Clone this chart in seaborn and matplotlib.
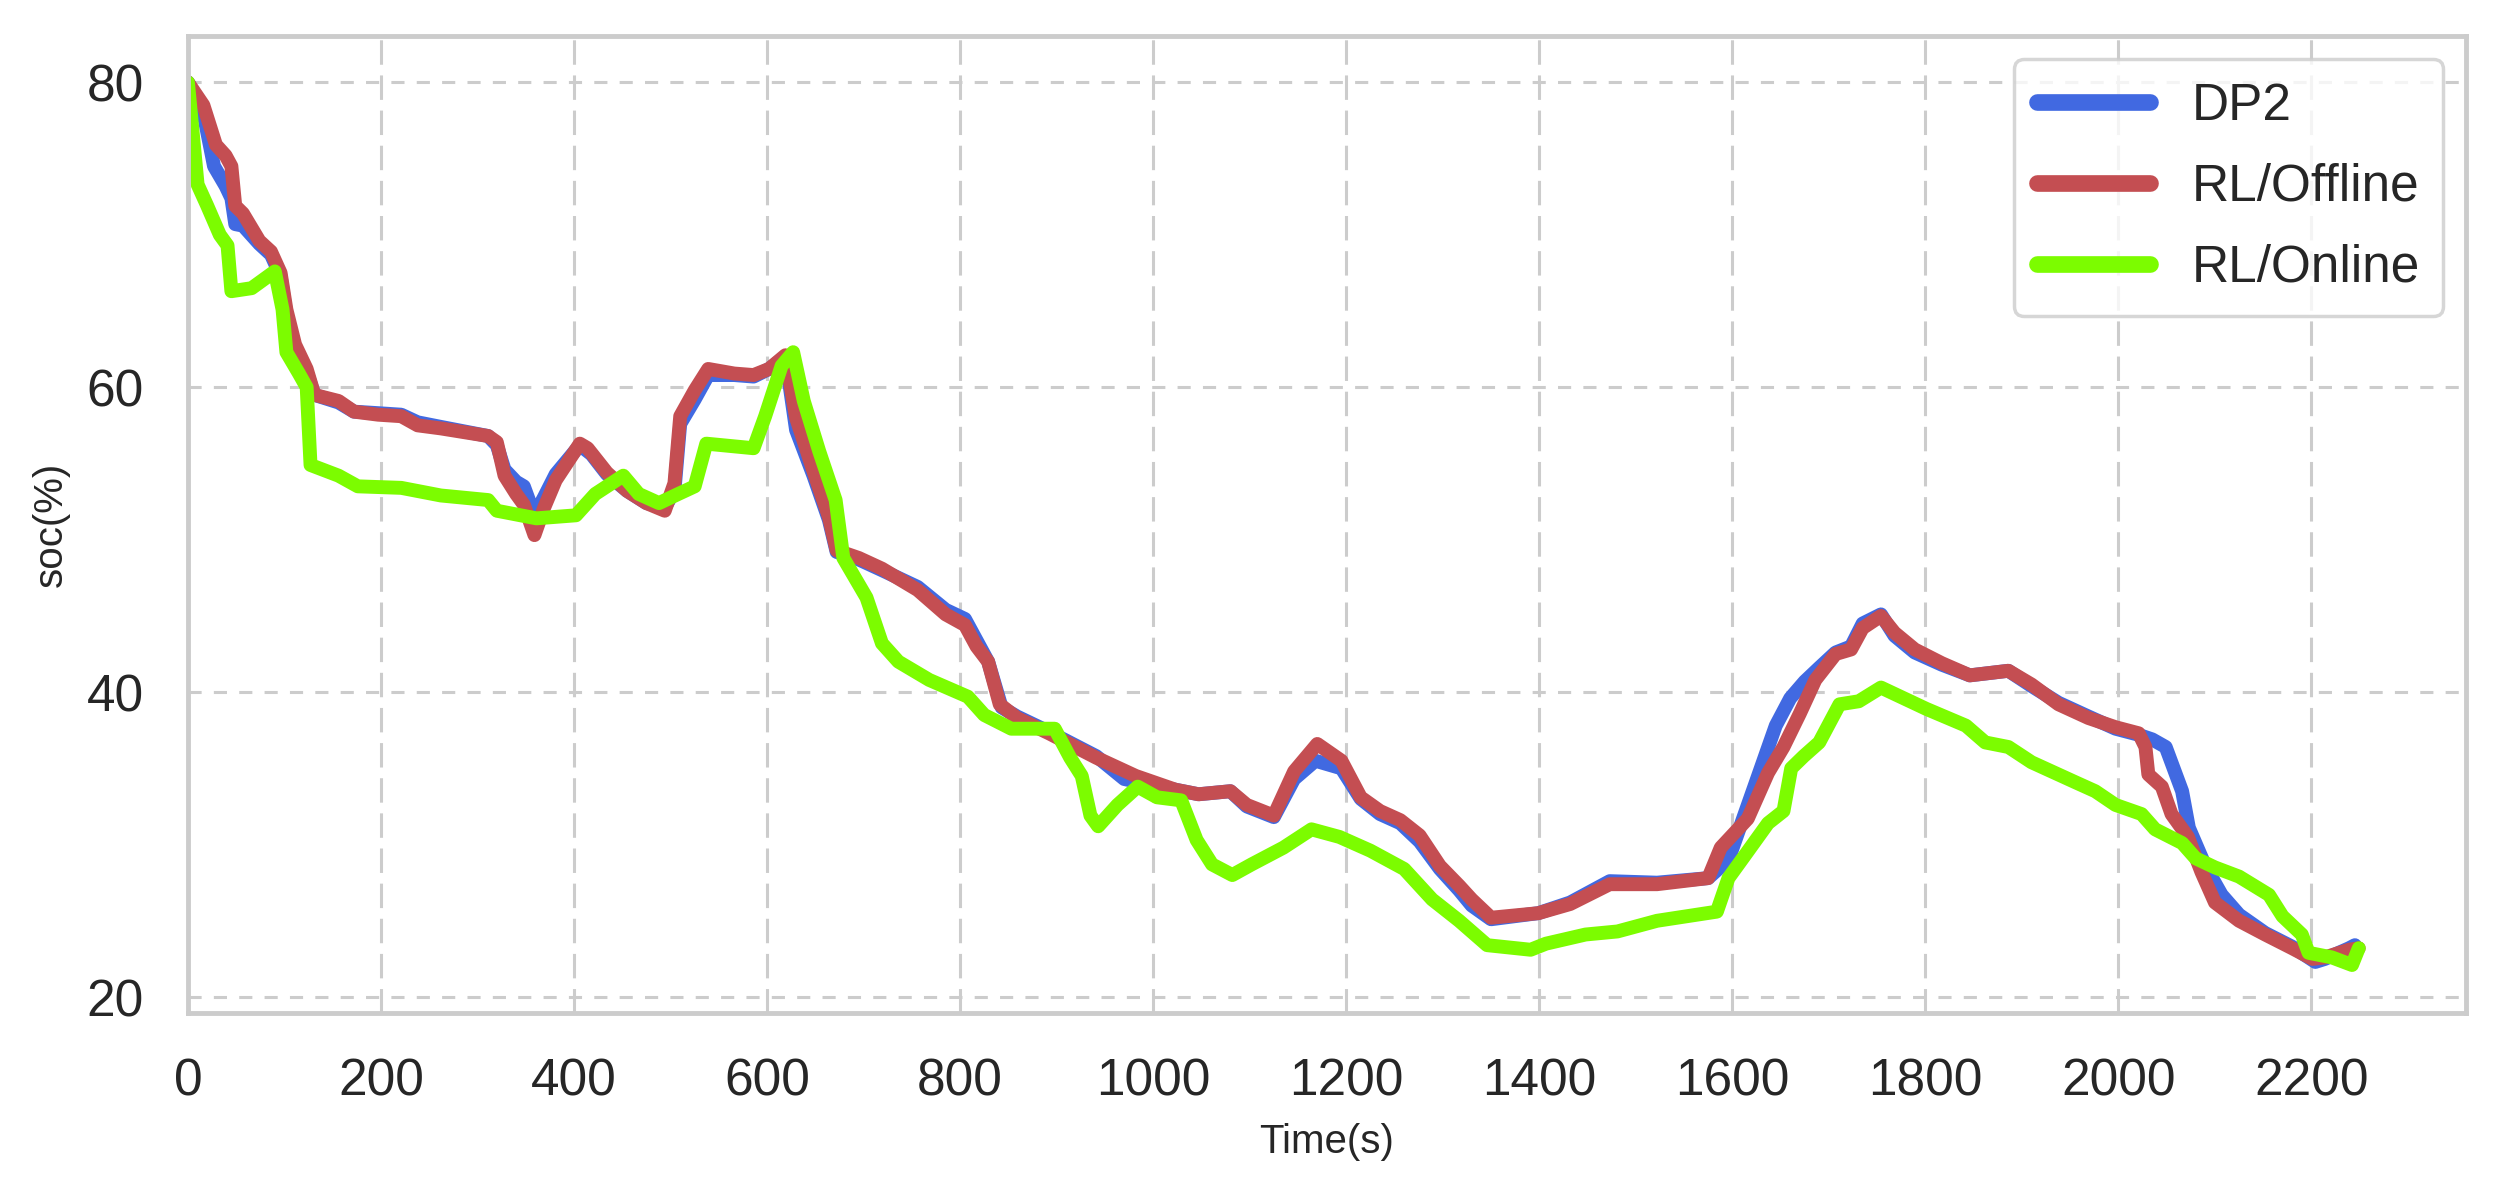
import matplotlib
matplotlib.use("Agg")
import matplotlib.pyplot as plt
import numpy as np
import pandas as pd
import seaborn as sns

# SOC trajectories
dp2_time = [0, 16, 27, 39, 45, 49, 57, 74, 86, 96, 102, 111, 123, 131, 156, 172,
            197, 221, 238, 262, 311, 320, 328, 340, 348, 359, 369, 381, 406, 418,
            434, 455, 475, 494, 504, 510, 525, 539, 566, 586, 602, 619, 630, 648,
            664, 672, 695, 719, 756, 785, 805, 817, 829, 843, 859, 892, 941, 970,
            1023, 1047, 1080, 1097, 1125, 1146, 1168, 1195, 1215, 1235, 1256, 1276,
            1297, 1317, 1330, 1350, 1399, 1432, 1473, 1522, 1575, 1596, 1625, 1645,
            1660, 1675, 1690, 1707, 1723, 1735, 1754, 1768, 1789, 1817, 1846, 1886,
            1910, 1938, 1969, 1997, 2021, 2035, 2049, 2066, 2073, 2090, 2107, 2125,
            2152, 2180, 2204, 2214, 2239, 2245]
dp2_soc = [80.0, 78.0, 74.5, 73.2, 72.4, 70.7, 70.6, 69.4, 68.7, 67.3, 64.8, 62.6,
           61.0, 59.5, 59.0, 58.4, 58.3, 58.2, 57.7, 57.4, 56.8, 56.2, 54.6, 53.8,
           53.5, 51.6, 52.8, 54.3, 56.2, 55.6, 54.3, 53.2, 52.4, 52.1, 53.2, 57.6,
           59.2, 60.8, 60.8, 60.7, 61.2, 62.0, 57.2, 54.2, 51.3, 49.2, 48.7, 48.0,
           46.9, 45.4, 44.8, 43.4, 42.0, 39.0, 38.4, 37.4, 35.8, 34.3, 33.6, 33.3,
           33.5, 32.5, 31.8, 34.3, 35.5, 35.0, 33.0, 32.0, 31.4, 30.2, 28.4, 27.0,
           26.0, 25.1, 25.5, 26.2, 27.6, 27.5, 27.8, 29.0, 34.2, 37.8, 39.6, 40.7,
           41.6, 42.6, 43.0, 44.5, 45.1, 43.7, 42.6, 41.8, 41.1, 41.4, 40.4, 39.3,
           38.4, 37.6, 37.2, 36.9, 36.4, 33.5, 31.1, 28.6, 26.7, 25.4, 24.2, 23.3,
           22.3, 22.5, 23.2, 23.4]

offline_time = [0, 16, 29, 39, 45, 49, 57, 74, 86, 96, 102, 111, 123, 131, 156, 172,
                197, 221, 238, 262, 311, 320, 328, 340, 348, 359, 369, 381, 406, 414,
                434, 455, 475, 494, 504, 510, 525, 539, 566, 586, 602, 619, 630, 648,
                664, 672, 695, 719, 756, 785, 805, 817, 829, 841, 859, 892, 941, 982,
                1023, 1047, 1080, 1097, 1125, 1146, 1170, 1195, 1215, 1235, 1256, 1276,
                1297, 1317, 1330, 1350, 1399, 1432, 1473, 1522, 1575, 1588, 1616, 1637,
                1653, 1670, 1686, 1707, 1723, 1735, 1754, 1768, 1789, 1817, 1846, 1886,
                1910, 1938, 1969, 1997, 2021, 2028, 2031, 2045, 2055, 2072, 2086, 2100,
                2125, 2152, 2180, 2201, 2214, 2239, 2249]
offline_soc = [80.0, 78.5, 75.9, 75.2, 74.5, 71.9, 71.4, 69.6, 68.9, 67.5, 65.1,
               62.8, 61.2, 59.5, 59.1, 58.4, 58.2, 58.1, 57.5, 57.3, 56.8, 56.4, 54.2,
               53.0, 52.3, 50.3, 52.1, 53.9, 56.3, 56.0, 54.4, 53.2, 52.4, 51.9, 53.7,
               58.1, 59.8, 61.2, 60.9, 60.8, 61.2, 62.1, 58.0, 54.5, 51.5, 49.3, 48.8,
               48.1, 46.7, 45.1, 44.4, 43.0, 42.0, 39.2, 38.3, 37.3, 35.7, 34.5, 33.6,
               33.3, 33.5, 32.6, 31.9, 34.8, 36.6, 35.5, 33.1, 32.2, 31.6, 30.6, 28.6,
               27.3, 26.4, 25.2, 25.5, 26.1, 27.4, 27.4, 27.8, 29.8, 31.7, 34.7, 36.4,
               38.6, 40.8, 42.5, 42.8, 44.2, 45.0, 43.9, 42.8, 41.9, 41.1, 41.4, 40.5,
               39.2, 38.3, 37.7, 37.3, 36.4, 34.6, 33.8, 32.0, 30.5, 28.2, 26.2, 25.0,
               24.1, 23.2, 22.5, 22.6, 23.1, 23.2]

online_time = [0, 10, 20, 33, 41, 45, 66, 90, 98, 102, 115, 123, 127, 156, 176, 221,
               262, 311, 320, 361, 402, 422, 451, 467, 488, 508, 525, 537, 586, 598,
               615, 627, 638, 654, 671, 679, 703, 719, 736, 768, 808, 825, 853, 898,
               914, 926, 935, 943, 963, 984, 1004, 1029, 1045, 1061, 1082, 1102, 1135,
               1164, 1193, 1225, 1260, 1289, 1317, 1346, 1391, 1407, 1448, 1481, 1522,
               1584, 1596, 1612, 1637, 1653, 1661, 1674, 1690, 1711, 1731, 1754, 1801,
               1842, 1862, 1886, 1910, 1955, 1976, 1997, 2024, 2038, 2066, 2080, 2100,
               2125, 2156, 2170, 2190, 2197, 2221, 2242, 2249]
online_soc = [80.0, 73.3, 71.9, 70.0, 69.3, 66.3, 66.5, 67.6, 65.1, 62.3, 60.9, 60.0,
              54.9, 54.2, 53.5, 53.4, 52.9, 52.6, 51.9, 51.4, 51.6, 53.0, 54.2, 53.0,
              52.4, 53.0, 53.5, 56.3, 56.0, 58.1, 61.4, 62.3, 59.1, 55.8, 52.6, 48.8,
              46.2, 43.2, 42.0, 40.8, 39.7, 38.5, 37.6, 37.6, 35.7, 34.5, 31.9, 31.2,
              32.6, 33.8, 33.1, 32.9, 30.3, 28.7, 28.0, 28.7, 29.8, 31.0, 30.5, 29.6,
              28.4, 26.4, 25.0, 23.4, 23.1, 23.5, 24.1, 24.3, 25.0, 25.6, 27.8, 29.2,
              31.4, 32.2, 35.0, 35.8, 36.7, 39.2, 39.4, 40.3, 38.9, 37.8, 36.7, 36.4,
              35.4, 34.1, 33.5, 32.6, 32.0, 31.0, 30.1, 29.1, 28.5, 27.9, 26.7, 25.3,
              24.1, 22.9, 22.6, 22.1, 23.2]

methods = ["DP2", "RL/Offline", "RL/Online"]
colors = {"DP2": "#4169E1", "RL/Offline": "#C44E52", "RL/Online": "#7CFC00"}

df = pd.concat([
    pd.DataFrame({"Time": dp2_time, "soc": dp2_soc, "method": "DP2"}),
    pd.DataFrame({"Time": offline_time, "soc": offline_soc, "method": "RL/Offline"}),
    pd.DataFrame({"Time": online_time, "soc": online_soc, "method": "RL/Online"}),
], ignore_index=True)

sns.set_theme(style="whitegrid")
plt.rcParams["font.family"] = ["Liberation Sans", "DejaVu Sans"]
plt.rcParams["axes.edgecolor"] = "#cccccc"
plt.rcParams["axes.linewidth"] = 3.5

fig, ax = plt.subplots(figsize=(25.06, 11.96), dpi=100)
fig.subplots_adjust(left=0.075, right=0.984, bottom=0.153, top=0.970)

sns.lineplot(data=df, x="Time", y="soc", hue="method", hue_order=methods,
             palette=colors, linewidth=10, estimator=None, sort=False, ax=ax)

ax.set_xlim(0, 2360)
ax.set_ylim(18.95, 83.05)
ax.set_xticks(np.arange(0, 2201, 200))
ax.set_yticks([20, 40, 60, 80])

ax.xaxis.grid(True, color="#cccccc", linewidth=2.2, linestyle=(0, (8, 3.5)))
ax.yaxis.grid(True, color="#cccccc", linewidth=2.2, linestyle=(0, (4.3, 4)))
ax.tick_params(axis="both", labelsize=37, pad=32, colors="#262626", length=0)

ax.set_xlabel("Time(s)", fontsize=29, color="#262626", labelpad=12)
ax.set_ylabel("soc(%)", fontsize=29, color="#262626", labelpad=12)

handles, labels = ax.get_legend_handles_labels()
leg = ax.legend(handles, labels, loc="upper right", fontsize=37, frameon=True,
                borderaxespad=0.45, labelspacing=0.62, handlelength=2.2,
                handletextpad=0.8, borderpad=0.45)
leg.get_frame().set_edgecolor("#cccccc")
leg.get_frame().set_linewidth(2.5)
for line in leg.get_lines():
    line.set_linewidth(12)

fig.savefig("out.png", dpi=100)
